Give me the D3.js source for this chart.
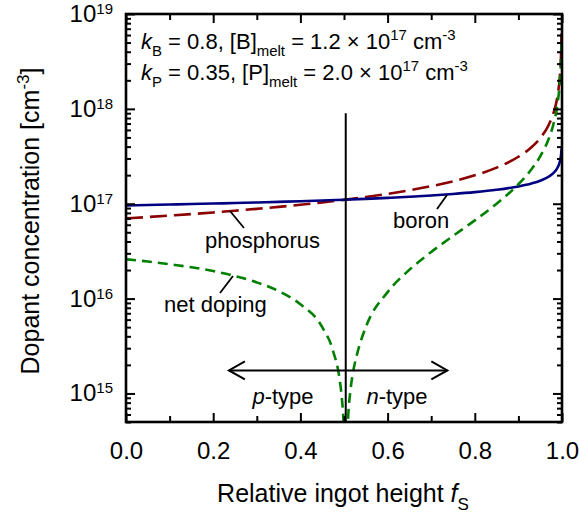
<!DOCTYPE html>
<html><head><meta charset="utf-8">
<script src="https://cdn.jsdelivr.net/npm/d3@7"></script>
<style>
body{margin:0;background:#fff}
text{font-family:"Liberation Sans",Arial,Helvetica,sans-serif;fill:#000}
</style></head>
<body><svg id="c" width="579" height="516"></svg>
<script>
// relative ingot height
const fS = [0, 0.05, 0.1, 0.15, 0.2, 0.25, 0.3, 0.35, 0.4, 0.45, 0.5, 0.55, 0.6, 0.65, 0.7, 0.75, 0.8, 0.85, 0.9, 0.93, 0.95, 0.97, 0.98, 0.99, 0.995, 0.998, 0.999];
// boron concentration [cm^-3]
const boron = [9.60e16, 9.70e16, 9.80e16, 9.92e16, 1.004e17, 1.017e17, 1.031e17, 1.046e17, 1.063e17, 1.082e17, 1.103e17, 1.126e17, 1.153e17, 1.184e17, 1.221e17, 1.267e17, 1.325e17, 1.403e17, 1.521e17, 1.634e17, 1.748e17, 1.936e17, 2.099e17, 2.411e17, 2.770e17, 3.327e17, 3.822e17];
// phosphorus concentration [cm^-3]
const phosphorus = [7.00e16, 7.24e16, 7.50e16, 7.78e16, 8.09e16, 8.44e16, 8.83e16, 9.26e16, 9.76e16, 1.032e17, 1.098e17, 1.176e17, 1.270e17, 1.385e17, 1.531e17, 1.724e17, 1.993e17, 2.402e17, 3.127e17, 3.943e17, 4.906e17, 6.838e17, 8.901e17, 1.397e18, 2.192e18, 3.977e18, 6.239e18];
// net doping
const fNet = [0, 0.05, 0.1, 0.15, 0.2, 0.25, 0.3, 0.35, 0.4, 0.45, 0.475, 0.49, 0.495, 0.499, 0.504, 0.509, 0.515, 0.52, 0.53, 0.55, 0.6, 0.65, 0.7, 0.75, 0.8, 0.85, 0.9, 0.93, 0.95, 0.97, 0.98, 0.99, 0.995, 0.998, 0.999];
const netDoping = [2.60e16, 2.46e16, 2.30e16, 2.14e16, 1.95e16, 1.73e16, 1.48e16, 1.20e16, 8.7e15, 5.0e15, 2.8e15, 1.4e15, 9.0e14, 5.0e14, 1.0e14, 5.0e14, 1.1e15, 1.6e15, 2.6e15, 5.0e15, 1.17e16, 2.01e16, 3.10e16, 4.57e16, 6.68e16, 9.99e16, 1.606e17, 2.309e17, 3.158e17, 4.902e17, 6.802e17, 1.156e18, 1.915e18, 3.644e18, 5.857e18];
// ticks
const xTickLabels = ["0.0", "0.2", "0.4", "0.6", "0.8", "1.0"];
const xMajor = [0, 0.2, 0.4, 0.6, 0.8, 1.0];
const xMinor = [0.1, 0.3, 0.5, 0.7, 0.9];
const yExponents = [15, 16, 17, 18, 19];

const svg = d3.select("#c");
const L = 126, R = 562, T = 14, B = 422;
const x = d3.scaleLinear().domain([0, 1]).range([L, R]);
const y = d3.scaleLog().domain([5e14, 1e19]).range([B, T]);

const yMajor = yExponents.map(e => Math.pow(10, e));
const yMinor = [];
for (let e = 14; e <= 18; e++) for (let d = 2; d <= 9; d++) {
  const v = d * Math.pow(10, e);
  if (v >= 5e14 && v < 1e19) yMinor.push(v);
}

svg.append("defs").append("clipPath").attr("id", "clip")
  .append("rect").attr("x", L).attr("y", T).attr("width", R - L).attr("height", B - T);

// curves
const g = svg.append("g").attr("clip-path", "url(#clip)");
const line = (xs, ys) => d3.line().x((d, i) => x(xs[i])).y((d, i) => y(ys[i])).curve(d3.curveMonotoneX)(ys);

g.append("path").attr("d", line(fS, phosphorus)).attr("fill", "none")
  .attr("stroke", "#8b0000").attr("stroke-width", 2.6).attr("stroke-dasharray", "17,7");
g.append("path").attr("d", line(fS, boron)).attr("fill", "none")
  .attr("stroke", "#000080").attr("stroke-width", 2.6);
g.append("path").attr("d", line(fNet, netDoping)).attr("fill", "none")
  .attr("stroke", "#008000").attr("stroke-width", 2.6).attr("stroke-dasharray", "10,6");

// axes ticks (inward)
function styleAxis(sel) {
  sel.select(".domain").remove();
  sel.selectAll(".tick line").attr("stroke", "#000").attr("stroke-width", 2);
}
svg.append("g").attr("transform", `translate(0,${B})`)
  .call(d3.axisBottom(x).tickValues(xMajor).tickSize(-9).tickPadding(20).tickFormat((d, i) => xTickLabels[i]))
  .call(styleAxis)
  .call(s => s.selectAll("text").attr("font-size", 24).attr("font-family", '"Liberation Sans",Arial,sans-serif'));
svg.append("g").attr("transform", `translate(0,${B})`)
  .call(d3.axisBottom(x).tickValues(xMinor).tickSize(-6).tickFormat(""))
  .call(styleAxis);
svg.append("g").attr("transform", `translate(0,${T})`)
  .call(d3.axisTop(x).tickValues(xMajor).tickSize(-9).tickFormat(""))
  .call(styleAxis);
svg.append("g").attr("transform", `translate(0,${T})`)
  .call(d3.axisTop(x).tickValues(xMinor).tickSize(-6).tickFormat(""))
  .call(styleAxis);

svg.append("g").attr("transform", `translate(${L},0)`)
  .call(d3.axisLeft(y).tickValues(yMajor).tickSize(-9).tickFormat(""))
  .call(styleAxis);
svg.append("g").attr("transform", `translate(${L},0)`)
  .call(d3.axisLeft(y).tickValues(yMinor).tickSize(-5).tickFormat(""))
  .call(styleAxis);
svg.append("g").attr("transform", `translate(${R},0)`)
  .call(d3.axisRight(y).tickValues(yMajor).tickSize(-9).tickFormat(""))
  .call(styleAxis);
svg.append("g").attr("transform", `translate(${R},0)`)
  .call(d3.axisRight(y).tickValues(yMinor).tickSize(-5).tickFormat(""))
  .call(styleAxis);

// y tick labels 10^n
yExponents.forEach(e => {
  const t = svg.append("text").attr("x", 113).attr("y", y(Math.pow(10, e)) + 8)
    .attr("text-anchor", "end").attr("font-size", 24);
  t.append("tspan").text("10");
  t.append("tspan").attr("font-size", 15).attr("dy", -8).text(String(e));
});

// frame
svg.append("rect").attr("x", L).attr("y", T).attr("width", R - L).attr("height", B - T)
  .attr("fill", "none").attr("stroke", "#000").attr("stroke-width", 2.6);

// rich text helper
function rich(xp, yp, size, parts, anchor) {
  const t = svg.append("text").attr("x", xp).attr("y", yp).attr("font-size", size)
    .attr("text-anchor", anchor || "start");
  let shift = 0;
  parts.forEach(p => {
    const s = t.append("tspan").text(p.t);
    let target = 0;
    if (p.sub) target = size * 0.3;
    if (p.sup) target = -size * 0.42;
    if (target !== shift) { s.attr("dy", target - shift); shift = target; }
    if (p.sub || p.sup) s.attr("font-size", size * 0.68);
    if (p.i) s.attr("font-style", "italic");
  });
  return t;
}

// axis titles
rich(343, 502, 25, [{t: "Relative ingot height "}, {t: "f", i: true}, {t: "S", sub: true}], "middle");
const yt = rich(0, 0, 25, [{t: "Dopant concentration [cm"}, {t: "-3", sup: true}, {t: "]"}], "middle");
yt.attr("transform", "translate(39,221) rotate(-90)");

// parameter annotations
rich(141, 49, 22, [{t: "k", i: true}, {t: "B", sub: true}, {t: " = 0.8, [B]"}, {t: "melt", sub: true},
  {t: " = 1.2 × 10"}, {t: "17", sup: true}, {t: " cm"}, {t: "-3", sup: true}]);
rich(141, 80, 22, [{t: "k", i: true}, {t: "P", sub: true}, {t: " = 0.35, [P]"}, {t: "melt", sub: true},
  {t: " = 2.0 × 10"}, {t: "17", sup: true}, {t: " cm"}, {t: "-3", sup: true}]);

// curve labels and leaders
const lbl = (xp, yp, s) => svg.append("text").attr("x", xp).attr("y", yp).attr("font-size", 22).text(s);
const leader = (x1, y1, x2, y2) => svg.append("line").attr("x1", x1).attr("y1", y1).attr("x2", x2).attr("y2", y2)
  .attr("stroke", "#000").attr("stroke-width", 1.8);
lbl(205, 248, "phosphorus"); leader(230, 211, 244, 228);
lbl(393, 228, "boron"); leader(447, 195, 437, 209);
lbl(164, 312, "net doping"); leader(233, 276, 220, 293);

// p/n junction line
const fJ = 0.504;
svg.append("line").attr("x1", x(fJ)).attr("x2", x(fJ)).attr("y1", y(9e17)).attr("y2", B)
  .attr("stroke", "#000").attr("stroke-width", 2);

// arrow
const ay = y(1.75e15), ax1 = x(0.236), ax2 = x(0.737);
svg.append("line").attr("x1", ax1).attr("x2", ax2).attr("y1", ay).attr("y2", ay)
  .attr("stroke", "#000").attr("stroke-width", 2);
svg.append("path").attr("d", `M${ax1 + 16},${ay - 9}L${ax1},${ay}L${ax1 + 16},${ay + 9}`)
  .attr("fill", "none").attr("stroke", "#000").attr("stroke-width", 2);
svg.append("path").attr("d", `M${ax2 - 16},${ay - 9}L${ax2},${ay}L${ax2 - 16},${ay + 9}`)
  .attr("fill", "none").attr("stroke", "#000").attr("stroke-width", 2);

rich(283, 404, 22, [{t: "p", i: true}, {t: "-type"}], "middle");
rich(397, 404, 22, [{t: "n", i: true}, {t: "-type"}], "middle");
</script>
</body></html>
